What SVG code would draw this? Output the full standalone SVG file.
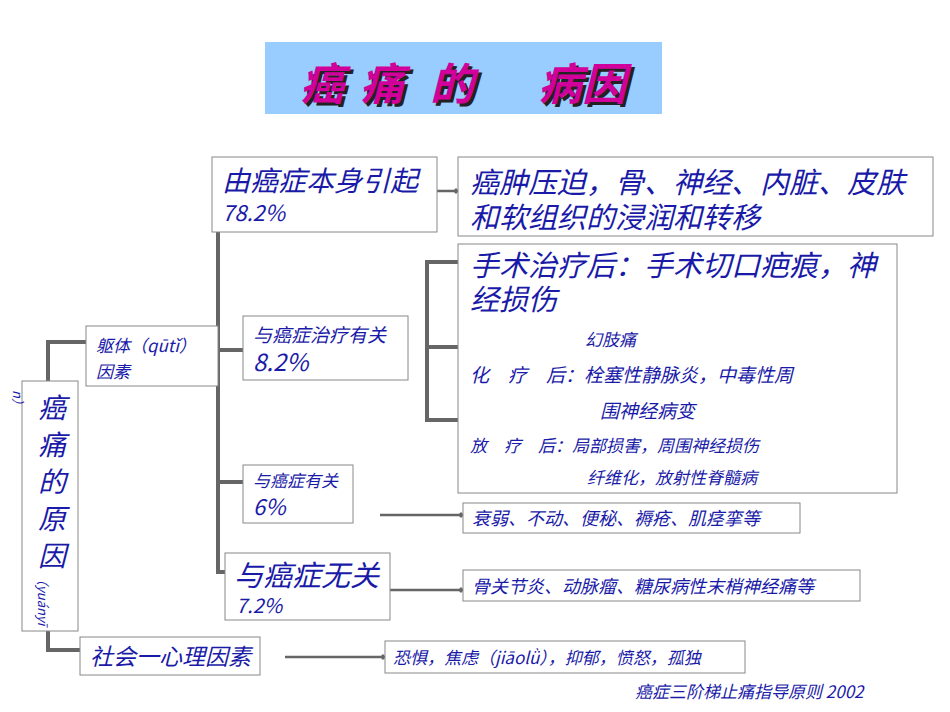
<svg xmlns="http://www.w3.org/2000/svg" width="950" height="712" viewBox="0 0 950 712">
<style>
.b{fill:#fff;stroke:#888;stroke-width:1}
.t{font-family:"Noto Sans CJK SC","Noto Sans",sans-serif;font-style:italic;fill:#1a1aa8}
.c{stroke:#666;stroke-width:4;fill:none}
.n{stroke:#666;stroke-width:2.5;fill:none}
.h{font-family:"Noto Sans CJK SC",sans-serif;font-size:44px;font-weight:bold;font-style:italic}
</style>
<defs><marker id="d" viewBox="0 0 6 6" refX="3" refY="3" markerWidth="6" markerHeight="6" markerUnits="userSpaceOnUse"><path d="M0 3L3 0L6 3L3 6Z" fill="#666"/></marker></defs>
<rect width="950" height="712" fill="#fff"/>
<g id="title"><rect x="265" y="42" width="397" height="72" fill="#99ccff"/>
<text class="h" y="103" fill="#222"><tspan x="303">癌</tspan><tspan x="363">痛</tspan><tspan x="433">的</tspan><tspan x="541">病因</tspan></text>
<text class="h" y="100" fill="#d1009a"><tspan x="300">癌</tspan><tspan x="360">痛</tspan><tspan x="430">的</tspan><tspan x="538">病因</tspan></text></g>
<g id="connectors">
<path class="c" d="M240 190H218V572H237M218 350H243M218 482H243"/>
<path class="c" d="M48 381V342H86M48 631V650H80"/>
<path class="c" d="M458 262H427V420H458M427 347H458"/>
<path class="n" d="M420 191H456" marker-end="url(#d)"/>
<path class="n" d="M458 262H460" marker-end="url(#d)"/>
<path class="n" d="M458 347H460" marker-end="url(#d)"/>
<path class="n" d="M458 420H460" marker-end="url(#d)"/>
<path class="n" d="M380 515H461" marker-end="url(#d)"/>
<path class="n" d="M380 590H461" marker-end="url(#d)"/>
<path class="n" d="M285 657H383" marker-end="url(#d)"/>
</g>
<g id="n1"><rect class="b" x="212" y="157" width="225" height="75"/><text class="t" x="222" y="191" font-size="28">由癌症本身引起</text><text class="t" x="222" y="221" font-size="22">78.2%</text></g>
<g id="r1"><rect class="b" x="458" y="157" width="475" height="79"/><text class="t" x="470" y="193" font-size="29">癌肿压迫，骨、神经、内脏、皮肤</text><text class="t" x="470" y="228" font-size="29">和软组织的浸润和转移</text></g>
<g id="r2"><rect class="b" x="458" y="244" width="439" height="249"/>
<text class="t" x="470" y="276" font-size="29">手术治疗后：手术切口疤痕，神</text>
<text class="t" x="470" y="310" font-size="29">经损伤</text>
<text class="t" x="585" y="346" font-size="17">幻肢痛</text>
<text class="t" x="470" y="382" font-size="19">化　疗　后：栓塞性静脉炎，中毒性周</text>
<text class="t" x="600" y="418" font-size="19">围神经病变</text>
<text class="t" x="470" y="452" font-size="17">放　疗　后：局部损害，周围神经损伤</text>
<text class="t" x="587" y="484" font-size="17">纤维化，放射性脊髓病</text></g>
<g id="n2"><rect class="b" x="243" y="316" width="165" height="64"/><text class="t" x="253" y="342" font-size="19">与癌症治疗有关</text><text class="t" x="253" y="371" font-size="24">8.2%</text></g>
<g id="n3"><rect class="b" x="243" y="465" width="110" height="58"/><text class="t" x="253" y="487" font-size="17">与癌症有关</text><text class="t" x="253" y="515" font-size="22">6%</text></g>
<g id="n4"><rect class="b" x="225" y="553" width="165" height="67"/><text class="t" x="234" y="586" font-size="29">与癌症无关</text><text class="t" x="236" y="613" font-size="20">7.2%</text></g>
<g id="n5"><rect class="b" x="86" y="326" width="132" height="60"/><text class="t" x="96" y="352" font-size="17">躯体（qūtǐ）</text><text class="t" x="96" y="378" font-size="17">因素</text></g>
<g id="root"><rect class="b" x="22" y="381" width="56" height="250"/>
<text class="t" font-size="28" text-anchor="middle" x="52"><tspan x="52" y="418">癌</tspan><tspan x="52" y="455">痛</tspan><tspan x="52" y="492">的</tspan><tspan x="52" y="529">原</tspan><tspan x="52" y="566">因</tspan></text>
<text class="t" font-size="13" transform="translate(38 572) rotate(90)">（yuányī</text>
<text class="t" font-size="13" transform="translate(13 390) rotate(90)">n）</text></g>
<g id="n6"><rect class="b" x="80" y="637" width="180" height="38"/><text class="t" x="90" y="665" font-size="23">社会一心理因素</text></g>
<g id="r3"><rect class="b" x="463" y="503" width="337" height="30"/><text class="t" x="472" y="525" font-size="18">衰弱、不动、便秘、褥疮、肌痉挛等</text></g>
<g id="r4"><rect class="b" x="463" y="570" width="397" height="31"/><text class="t" x="472" y="593" font-size="18">骨关节炎、动脉瘤、糖尿病性末梢神经痛等</text></g>
<g id="r5"><rect class="b" x="385" y="641" width="360" height="32"/><text class="t" x="393" y="664" font-size="17">恐惧，焦虑（jiāolǜ），抑郁，愤怒，孤独</text></g>
<text class="t" x="635" y="698" font-size="17">癌症三阶梯止痛指导原则 2002</text>
</svg>
